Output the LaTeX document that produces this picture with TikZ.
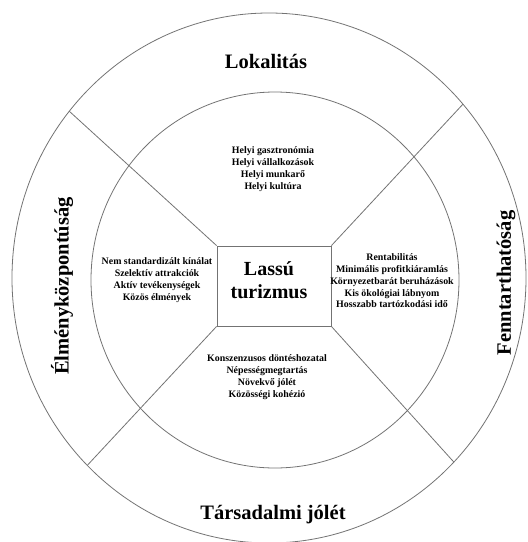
\documentclass[tikz,border=0pt]{standalone}
\usepackage{fontspec}
\setmainfont{Liberation Serif}
\usetikzlibrary{%
  calc,
  positioning,
}

\tikzset{
  ring/.style = {draw = black!55, line width = 0.8pt},
  dimension/.style = {font = \fontsize{20.5}{24}\selectfont\bfseries},
  itemlist/.style = {align = center, font = \fontsize{9.9}{11.8}\selectfont\bfseries},
}

\begin{document}
\begin{tikzpicture}[x = 1pt, y = 1pt]
        \useasboundingbox (0,0) rectangle (528,-542);

        % two rings
        \coordinate (oc) at (269,-278);
        \coordinate (ic) at (275,-280);
        \draw[ring] (oc) ellipse [x radius = 257, y radius = 265];
        \draw[ring] (ic) ellipse [x radius = 184, y radius = 188];

        \node[
          rectangle, ring,
          minimum width = 114pt, minimum height = 80pt,
        ] (lassu) at (274,-286) {};
        \node[
          align = center,
          font = \fontsize{20}{23}\selectfont\bfseries,
        ] (lassutxt) at (269,-280) {Lassú\\turizmus};

        % spokes out to the outer ring
        \coordinate (ne) at ($(oc)+(41:257 and 265)$);
        \coordinate (nw) at ($(oc)+(141:257 and 265)$);
        \coordinate (sw) at ($(oc)+(225:257 and 265)$);
        \coordinate (se) at ($(oc)+(316:257 and 265)$);
        \draw[ring] (lassu.north east) -- (ne);
        \draw[ring] (lassu.north west) -- (nw);
        \draw[ring] (lassu.south west) -- (sw);
        \draw[ring] (lassu.south east) -- (se);

        % outer labels
        \node[dimension] (lokalitas) at (266,-61) {Lokalitás};
        \node[dimension] (jolet) at (273,-515) {Társadalmi jólét};
        \node[dimension, rotate = 90] (elmeny) at (62,-286) {Élményközpontúság};
        \node[dimension, rotate = 90] (fenntart) at (506,-283) {Fenntarthatóság};

        % inner lists
        \node[itemlist] (helyi) at (273,-169) {%
          Helyi gasztronómia\\Helyi vállalkozások\\Helyi munkarő\\Helyi kultúra};
        \node[itemlist] (kinalat) at (157,-280) {%
          Nem standardizált kínálat\\Szelektív attrakciók\\%
          Aktív tevékenységek\\Közös élmények};
        \node[itemlist] (rentab) at (392,-281) {%
          Rentabilitás\\Minimális profitkiáramlás\\Környezetbarát beruházások\\%
          Kis ökológiai lábnyom\\Hosszabb tartózkodási idő};
        \node[itemlist] (konszenz) at (267,-377) {%
          Konszenzusos döntéshozatal\\Népességmegtartás\\Növekvő jólét\\%
          Közösségi kohézió};
      \end{tikzpicture}
\end{document}
